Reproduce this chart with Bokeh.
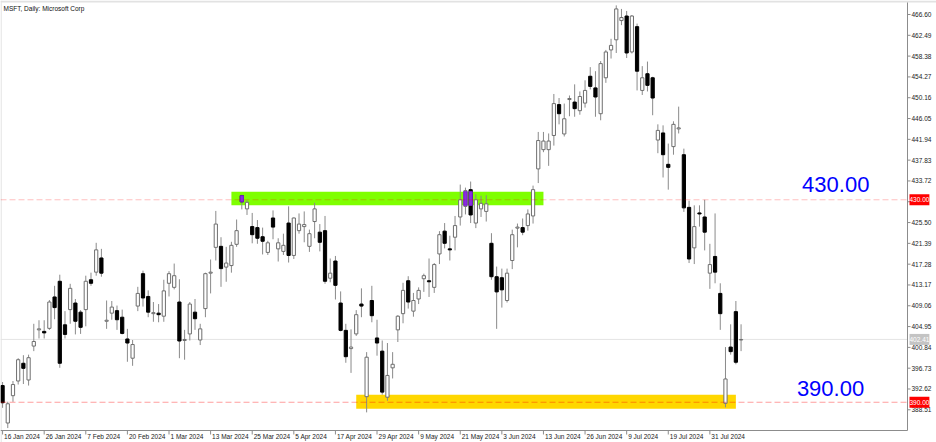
from bokeh.plotting import figure
from bokeh.models import ColumnDataSource, Range1d, Label, BoxAnnotation
from bokeh.core.properties import value
from bokeh.embed import file_html
from bokeh.resources import INLINE

TITLE = "MSFT, Daily:  Microsoft Corp"

# x-axis labels, one every 8 daily bars starting at the first bar (16 Jan 2024)
DATE_LABELS = ["16 Jan 2024", "26 Jan 2024", "7 Feb 2024", "20 Feb 2024", "1 Mar 2024",
               "13 Mar 2024", "25 Mar 2024", "5 Apr 2024", "17 Apr 2024", "29 Apr 2024",
               "9 May 2024", "21 May 2024", "3 Jun 2024", "13 Jun 2024", "26 Jun 2024",
               "9 Jul 2024", "19 Jul 2024", "31 Jul 2024"]
BARS_PER_LABEL = 8

PRICE_TICKS = [388.51, 392.62, 396.73, 400.84, 404.95, 409.06, 413.17, 417.28, 421.39,
               425.50, 429.61, 433.72, 437.83, 441.94, 446.05, 450.16, 454.27, 458.38,
               462.49, 466.60]

OPEN = [393.3, 385.9, 391.3, 394.2, 397.7, 394.4, 401.1, 404.3, 404.0, 404.6,
        410.8, 413.9, 405.3, 408.3, 409.6, 407.8, 408.3, 414.2, 415.7, 418.5,
        406.0, 407.6, 408.1, 406.8, 402.5, 398.7, 409.0, 415.4, 410.9, 407.5,
        407.6, 407.0, 413.5, 412.7, 409.8, 402.2, 403.5, 407.8, 402.3, 408.5,
        415.5, 420.6, 420.8, 416.7, 417.0, 421.2, 430.8, 428.2, 424.7, 424.5,
        422.7, 419.6, 426.4, 420.3, 419.8, 425.4, 419.0, 423.9, 424.7, 420.8,
        425.7, 423.6, 423.9, 414.5, 417.9, 409.6, 404.2, 400.6, 403.5, 409.4,
        391.1, 410.1, 402.7, 400.1, 391.0, 396.8, 404.3, 407.5, 414.0, 408.0,
        410.4, 414.4, 414.0, 412.7, 419.3, 423.8, 420.3, 422.6, 426.6, 428.7,
        432.0, 425.4, 428.2, 427.7, 421.4, 414.8, 414.6, 410.1, 418.0, 424.4,
        424.5, 424.9, 426.8, 436.1, 439.9, 439.9, 442.7, 448.8, 443.0, 449.8,
        449.3, 447.6, 449.1, 454.4, 452.1, 447.0, 454.1, 459.6, 461.6, 465.4,
        466.3, 459.2, 464.2, 451.6, 454.9, 454.1, 441.8, 443.2, 437.0, 440.5,
        444.0, 438.9, 428.5, 420.5, 427.4, 426.6, 415.5, 418.8, 411.5, 389.8,
        400.9, 407.9, 402.3]
HIGH = [394.0, 390.1, 394.2, 398.7, 399.3, 399.4, 405.5, 406.2, 406.2, 410.2,
        413.0, 415.2, 408.0, 413.4, 410.4, 408.2, 415.0, 415.6, 421.5, 420.3,
        410.1, 410.0, 409.1, 408.3, 404.5, 402.3, 412.8, 416.0, 412.1, 409.8,
        409.4, 414.2, 415.9, 417.4, 414.3, 404.3, 409.8, 410.4, 405.5, 415.6,
        418.2, 427.8, 422.6, 420.7, 421.7, 426.1, 431.0, 429.9, 427.4, 426.0,
        424.5, 421.9, 427.9, 422.4, 423.3, 428.7, 426.5, 427.3, 427.7, 424.1,
        429.4, 425.2, 426.8, 418.4, 418.9, 411.9, 405.5, 404.4, 408.2, 412.5,
        399.9, 413.0, 406.3, 402.2, 401.7, 399.9, 407.2, 413.6, 414.9, 411.6,
        412.7, 415.4, 418.4, 417.5, 423.8, 425.4, 422.9, 426.8, 433.0, 432.4,
        433.6, 431.1, 430.8, 430.9, 423.4, 416.8, 416.4, 416.4, 424.1, 425.3,
        426.3, 428.1, 432.8, 443.4, 443.4, 443.1, 450.9, 450.1, 449.0, 450.6,
        452.8, 451.4, 453.6, 456.2, 455.4, 457.4, 459.6, 461.8, 468.4, 467.7,
        467.3, 466.5, 464.8, 456.4, 457.3, 454.3, 444.9, 444.7, 441.1, 445.5,
        448.4, 440.1, 429.8, 428.9, 428.9, 430.0, 421.3, 427.3, 413.5, 400.9,
        405.4, 410.0, 405.4]
LOW = [388.9, 384.9, 390.1, 393.5, 393.6, 393.3, 400.1, 402.6, 402.6, 404.3,
       406.4, 396.8, 402.6, 405.5, 403.4, 403.5, 405.0, 413.0, 415.0, 414.8,
       404.5, 406.3, 404.3, 403.4, 398.0, 397.2, 408.0, 408.9, 406.8, 405.9,
       405.8, 405.9, 410.9, 412.3, 398.7, 398.4, 402.2, 404.3, 401.3, 406.8,
       411.5, 418.0, 412.8, 413.8, 415.6, 420.7, 428.1, 427.0, 421.4, 421.3,
       419.2, 419.1, 422.2, 417.8, 419.1, 417.6, 418.3, 423.3, 421.6, 419.7,
       422.4, 419.8, 413.4, 413.7, 410.3, 404.0, 397.8, 395.8, 403.1, 406.8,
       388.0, 405.8, 399.2, 391.5, 390.3, 394.7, 401.9, 405.6, 408.5, 406.9,
       409.4, 411.8, 410.8, 411.6, 417.3, 420.4, 418.0, 420.0, 424.9, 427.1,
       425.4, 424.4, 426.6, 425.7, 414.2, 404.5, 408.7, 409.7, 416.3, 420.6,
       423.0, 423.9, 425.3, 433.3, 439.4, 436.7, 440.7, 444.9, 442.5, 446.5,
       446.4, 446.8, 448.2, 451.8, 446.4, 445.7, 453.1, 457.9, 459.0, 464.5,
       458.0, 458.9, 451.6, 450.7, 451.4, 446.7, 439.2, 434.4, 432.0, 438.9,
       443.1, 427.6, 417.5, 417.3, 424.7, 420.0, 412.4, 413.5, 404.3, 389.0,
       399.4, 397.5, 400.1]
CLOSE = [389.9, 389.7, 393.5, 398.4, 396.7, 398.8, 402.0, 404.5, 403.7, 409.8,
         408.7, 397.7, 403.4, 412.5, 406.0, 404.8, 413.9, 413.5, 420.1, 415.5,
         406.2, 408.8, 406.3, 403.6, 401.7, 401.4, 411.5, 410.6, 407.8, 407.7,
         407.3, 412.0, 415.4, 415.0, 402.1, 402.4, 409.4, 406.5, 404.5, 415.4,
         415.7, 425.2, 416.4, 417.5, 421.0, 423.9, 429.6, 429.5, 423.1, 422.4,
         421.8, 421.5, 424.6, 421.5, 421.0, 419.0, 426.4, 425.2, 425.1, 423.3,
         428.2, 421.6, 413.9, 415.5, 413.1, 404.2, 399.0, 400.9, 407.3, 409.0,
         398.9, 407.1, 401.7, 392.0, 395.3, 397.5, 407.0, 412.1, 409.8, 410.1,
         412.1, 415.0, 413.8, 417.2, 423.1, 421.4, 420.1, 424.9, 430.0, 431.8,
         427.0, 430.0, 429.3, 429.2, 414.8, 411.8, 412.2, 415.5, 423.1, 424.6,
         423.6, 427.2, 432.0, 441.7, 441.6, 441.6, 449.0, 447.0, 446.0, 450.0,
         448.0, 450.4, 451.6, 452.4, 450.3, 456.9, 459.2, 460.5, 467.7, 466.0,
         459.0, 466.3, 455.4, 454.1, 452.6, 450.1, 443.7, 438.9, 436.4, 444.9,
         444.2, 428.4, 418.3, 424.7, 427.2, 423.6, 417.2, 415.7, 407.5, 394.6,
         400.0, 397.9, 402.4]

LEVELS = [430.00, 390.00]
LEVEL_TEXT = ["430.00", "390.00"]
LAST_PRICE = 402.41
HIGHLIGHT_BARS = [46, 89, 90]
RESIST_ZONE = (44, 104, 428.9, 431.6)   # left bar, right bar, bottom, top
SUPPORT_ZONE = (68, 141, 388.7, 391.5)

# ---- layout (pixels) ----
W, H = 936, 442
PRICE_PANEL_PX = 29       # right price scale
TIME_PANEL_PX = 12        # bottom time scale
TOP_PX = 2                # top border strip
X_LEFT, AXIS_X = -0.4, 174.0
PPB = (W - PRICE_PANEL_PX) / (AXIS_X - X_LEFT)
X_RIGHT = X_LEFT + W / PPB
P_TOP, P_BOT = 468.97, 384.42
PPU = (H - TIME_PANEL_PX - TOP_PX) / (P_TOP - P_BOT)
Y_TOP = P_TOP + TOP_PX / PPU
Y_BOT = P_BOT - TIME_PANEL_PX / PPU
FONT = "Liberation Sans"
SMALL = "6.5px"
AXIS_COLOR = "#8C8C8C"
TEXT_COLOR = "#1A1A1A"

p = figure(width=W, height=H, output_backend="svg", toolbar_location=None,
           x_range=Range1d(X_LEFT, X_RIGHT), y_range=Range1d(Y_BOT, Y_TOP),
           x_axis_location=None, y_axis_location=None,
           min_border_left=0, min_border_top=0, min_border_right=0, min_border_bottom=0)
for g in p.grid:
    g.visible = False
p.outline_line_color = None
p.background_fill_color = "white"
p.border_fill_color = "white"

# window borders (top strip and left edge)
p.add_layout(BoxAnnotation(top=Y_TOP, bottom=P_TOP, fill_color="#E2E2E2", fill_alpha=1,
                           line_color=None, level="underlay"))
p.add_layout(BoxAnnotation(left=X_LEFT, right=X_LEFT + 1.2 / PPB, fill_color="#E2E2E2",
                           fill_alpha=1, line_color=None, level="underlay"))

# zones
p.add_layout(BoxAnnotation(left=RESIST_ZONE[0], right=RESIST_ZONE[1], bottom=RESIST_ZONE[2],
                           top=RESIST_ZONE[3], fill_color="#7FFF00", fill_alpha=1.0,
                           line_color=None, level="underlay"))
p.add_layout(BoxAnnotation(left=SUPPORT_ZONE[0], right=SUPPORT_ZONE[1], bottom=SUPPORT_ZONE[2],
                           top=SUPPORT_ZONE[3], fill_color="#FFD700", fill_alpha=1.0,
                           line_color=None, level="underlay"))
# last price line
p.segment(x0=[X_LEFT], x1=[AXIS_X], y0=[LAST_PRICE], y1=[LAST_PRICE], line_color="#E4E4E4",
          line_width=1, level="underlay")

# candles
n = len(OPEN)
xs = list(range(n))
tops = [max(o, c) for o, c in zip(OPEN, CLOSE)]
bots = [min(o, c) for o, c in zip(OPEN, CLOSE)]
fills = ["white" if c >= o else "black" for o, c in zip(OPEN, CLOSE)]
lines = ["#6E6E6E" if c >= o else "black" for o, c in zip(OPEN, CLOSE)]
src = ColumnDataSource(dict(x=xs, high=HIGH, low=LOW, top=tops, bottom=bots,
                            fill=fills, line=lines))
p.segment(x0="x", y0="high", x1="x", y1="low", source=src, line_color="#8A8A8A", line_width=1)
p.vbar(x="x", width=0.62, top="top", bottom="bottom", fill_color="fill",
       line_color="line", line_width=1, source=src)

hl_top = [min(tops[i], RESIST_ZONE[3]) for i in HIGHLIGHT_BARS]
hl_bot = [max(bots[i], RESIST_ZONE[2]) for i in HIGHLIGHT_BARS]
p.vbar(x=HIGHLIGHT_BARS, width=0.62, top=hl_top, bottom=hl_bot,
       fill_color="#8A2BE2", line_color="#7A1FD0", line_width=1)

# level lines (semi-transparent red, stop at the price scale)
for lv, a in zip(LEVELS, [0.25, 0.38]):
    p.segment(x0=[X_LEFT], x1=[AXIS_X], y0=[lv], y1=[lv], line_color="#FF0000",
              line_alpha=a, line_width=1, line_dash="6 3")

# big blue level texts
p.add_layout(Label(x=160.2, y=433.0, text=LEVEL_TEXT[0], text_align="center",
                   text_baseline="middle", text_font=FONT, text_font_size="22px",
                   text_color="#0000FF"))
p.add_layout(Label(x=159.2, y=392.8, text=LEVEL_TEXT[1], text_align="center",
                   text_baseline="middle", text_font=FONT, text_font_size="22px",
                   text_color="#0000FF"))

# title
p.add_layout(Label(x=X_LEFT, y=P_TOP, x_offset=3, y_offset=-2, text=TITLE, text_align="left",
                   text_baseline="top", text_font=FONT, text_font_size=SMALL,
                   text_color="#111111"))

# ---- price scale (right) ----
p.segment(x0=[AXIS_X], x1=[AXIS_X], y0=[P_BOT], y1=[P_TOP], line_color=AXIS_COLOR, line_width=1)
p.segment(x0=[AXIS_X] * len(PRICE_TICKS), x1=[AXIS_X + 3 / PPB] * len(PRICE_TICKS),
          y0=PRICE_TICKS, y1=PRICE_TICKS, line_color=AXIS_COLOR, line_width=1)
shown = [t for t in PRICE_TICKS if all(abs(t - lv) > 1.2 for lv in LEVELS)]
p.text(x=[AXIS_X + 4 / PPB] * len(shown), y=shown, text=[f"{t:.2f}" for t in shown],
       text_align="left", text_baseline="middle",
       text_font=value(FONT), text_font_size=value(SMALL), text_color=TEXT_COLOR)

for lv, txt in zip(LEVELS, LEVEL_TEXT):
    p.add_layout(Label(x=AXIS_X, y=lv, x_offset=2, text=txt, text_align="left",
                       text_baseline="middle", text_font=FONT, text_font_size=SMALL,
                       text_color="white", background_fill_color="#FF0000",
                       padding=(0, 3)))
p.add_layout(Label(x=AXIS_X, y=LAST_PRICE, x_offset=2, text=f"{LAST_PRICE:.2f}",
                   text_align="left", text_baseline="middle", text_font=FONT,
                   text_font_size=SMALL, text_color="white",
                   background_fill_color="#C4C4C4", padding=(0, 3)))

# ---- time scale (bottom) ----
tick_idx = [k * BARS_PER_LABEL for k in range(len(DATE_LABELS))]
p.segment(x0=[X_LEFT], x1=[AXIS_X], y0=[P_BOT], y1=[P_BOT], line_color=AXIS_COLOR, line_width=1)
p.segment(x0=tick_idx, x1=tick_idx, y0=[P_BOT] * len(tick_idx),
          y1=[P_BOT - 4 / PPU] * len(tick_idx), line_color=AXIS_COLOR, line_width=1)
p.text(x=[t + 1.5 / PPB for t in tick_idx], y=[P_BOT - 2.5 / PPU] * len(tick_idx),
       text=DATE_LABELS, text_align="left", text_baseline="top",
       text_font=value(FONT), text_font_size=value(SMALL), text_color=TEXT_COLOR)

open("out.html", "w").write(file_html(p, INLINE))
